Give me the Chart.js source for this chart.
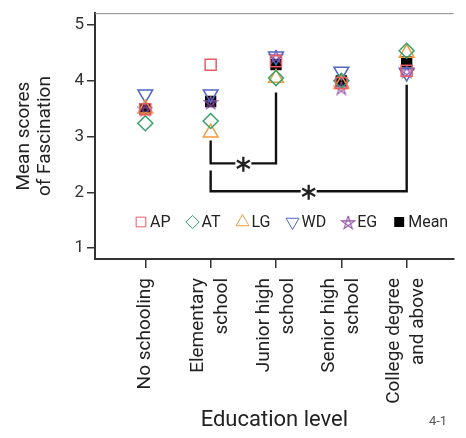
<!DOCTYPE html>
<html>
<head>
<meta charset="utf-8">
<script src="https://cdn.jsdelivr.net/npm/chart.js@4"></script>
<style>
  html, body { margin: 0; padding: 0; background: #fff; }
</style>
</head>
<body>
<canvas id="chart" width="466" height="438"></canvas>
<script>
// Education levels (x categories)
const levels = ['No schooling', ['Elementary', 'school'], ['Junior high', 'school'], ['Senior high', 'school'], ['College degree', 'and above']];

// Mean scores of Fascination per group
const apScores = [3.49, 4.29, 4.35, 3.96, 4.18];
const atScores = [3.24, 3.28, 4.05, 4.00, 4.54];
const lgScores = [3.50, 3.07, 4.05, 3.94, 4.50];
const wdScores = [3.76, 3.76, 4.44, 4.17, 4.15];
const egScores = [3.50, 3.62, 4.45, 3.88, 4.18];
const meanScores = [3.50, 3.63, 4.29, 4.00, 4.34];

const yTicks = [1, 2, 3, 4, 5];

// Significance brackets (level index pairs) and their heights
const sigPairs = [[1, 2], [1, 4]];
const sigBarY = [2.52, 2.02];
const sigLeftTop = [2.93, 2.39];
const sigRightTop = [3.79, 3.93];

const FONT = 'Roboto, "DejaVu Sans", sans-serif';
const TICK_SIZE = 19;
const TICK_LINE = 24;

// five pointed star drawn as lines, for the EG group
function makeStar(color, size) {
    const c = document.createElement('canvas');
    c.width = size;
    c.height = size;
    const g = c.getContext('2d');
    const r = size / 2 - 1;
    g.strokeStyle = color;
    g.lineWidth = 1.1;
    g.beginPath();
    for (let k = 0; k <= 5; k++) {
        const a = -Math.PI / 2 + k * 4 * Math.PI / 5;
        const px = size / 2 + r * Math.cos(a);
        const py = size / 2 + 1 + r * Math.sin(a);
        if (k === 0) g.moveTo(px, py); else g.lineTo(px, py);
    }
    g.stroke();
    return c;
}

function toPoints(values) {
    return values.map((v, i) => ({ x: i, y: v }));
}

function markerSet(label, values, color, style, radius, rotation, filled) {
    return {
        label: label,
        data: toPoints(values),
        pointStyle: style,
        pointRadius: radius,
        pointHoverRadius: radius,
        pointRotation: rotation,
        borderColor: color,
        backgroundColor: filled ? color : 'rgba(0,0,0,0)',
        borderWidth: filled ? 0 : 1.5,
        showLine: false
    };
}

function bracketSet(i) {
    const [a, b] = sigPairs[i];
    return {
        label: 'sig' + i,
        data: [
            { x: a, y: sigLeftTop[i] },
            { x: a, y: sigBarY[i] },
            { x: b, y: sigBarY[i] },
            { x: b, y: sigRightTop[i] }
        ],
        showLine: true,
        borderColor: '#111',
        borderWidth: 2.4,
        pointRadius: 0,
        pointHoverRadius: 0,
        fill: false
    };
}

const markerSets = [
    markerSet('AP', apScores, '#ec5a63', 'rect', 7.8, 0, false),
    markerSet('AT', atScores, '#34a26a', 'rectRot', 7.5, 0, false),
    markerSet('LG', lgScores, '#f39a3c', 'triangle', 8.5, 0, false),
    markerSet('WD', wdScores, '#5068c4', 'triangle', 8.5, 180, false),
    markerSet('EG', egScores, '#9150a8', makeStar('#9150a8', 16), 8, 0, false),
    markerSet('Mean', meanScores, '#000000', 'rect', 8, 0, true)
];

const extrasPlugin = {
    id: 'extras',
    beforeDatasetsDraw(chart) {
        const { ctx, chartArea } = chart;
        ctx.save();
        ctx.strokeStyle = '#8a8a8a';
        ctx.lineWidth = 1;
        ctx.beginPath();
        ctx.moveTo(chartArea.left, chartArea.top + 0.5);
        ctx.lineTo(chartArea.right, chartArea.top + 0.5);
        ctx.stroke();
        ctx.restore();
    },
    afterDatasetsDraw(chart) {
        const { ctx } = chart;
        const xs = chart.scales.x, ys = chart.scales.y;
        ctx.save();
        sigPairs.forEach(([a, b], i) => {
            const cx = xs.getPixelForValue((a + b) / 2);
            const cy = ys.getPixelForValue(sigBarY[i]) + 1;
            ctx.fillStyle = '#fff';
            ctx.fillRect(cx - 8, cy - 9, 16, 18);
            ctx.strokeStyle = '#222';
            ctx.lineWidth = 2.3;
            ctx.beginPath();
            [90, 30, -30].forEach(deg => {
                const t = deg * Math.PI / 180;
                ctx.moveTo(cx - 7.5 * Math.cos(t), cy - 7.5 * Math.sin(t));
                ctx.lineTo(cx + 7.5 * Math.cos(t), cy + 7.5 * Math.sin(t));
            });
            ctx.stroke();
        });
        ctx.restore();
    },
    afterDraw(chart) {
        const { ctx, chartArea } = chart;
        ctx.save();
        // legend inside the plot
        ctx.font = '16px ' + FONT;
        ctx.textBaseline = 'middle';
        let x = chartArea.left + 46;
        const y = chartArea.bottom - 37;
        markerSets.forEach(ds => {
            ctx.strokeStyle = ds.borderColor;
            ctx.fillStyle = ds.backgroundColor;
            Chart.helpers.drawPoint(ctx, {
                pointStyle: ds.pointStyle,
                rotation: ds.pointRotation,
                radius: ds.pointRadius * 0.88,
                borderWidth: ds.borderWidth
            }, x, y);
            ctx.fillStyle = '#222';
            ctx.textAlign = 'left';
            ctx.fillText(ds.label, x + 9, y + 1);
            x += 9 + ctx.measureText(ds.label).width + 22;
        });
        // figure number
        ctx.font = '13px ' + FONT;
        ctx.fillStyle = '#555';
        ctx.textAlign = 'center';
        ctx.fillText('4-1', chart.width - 28, chart.height - 16);
        ctx.restore();
    }
};

new Chart(document.getElementById('chart'), {
    type: 'scatter',
    data: {
        datasets: markerSets.concat(sigPairs.map((p, i) => bracketSet(i)))
    },
    options: {
        responsive: false,
        animation: false,
        events: [],
        layout: { padding: { top: 12, right: 0, bottom: 0, left: 0 } },
        plugins: {
            legend: { display: false },
            tooltip: { enabled: false }
        },
        scales: {
            x: {
                type: 'linear',
                position: 'bottom',
                min: -0.77,
                max: 4.72,
                afterBuildTicks: s => { s.ticks = levels.map((l, i) => ({ value: i })); },
                afterFit: s => { s.height = 179; },
                ticks: {
                    autoSkip: false,
                    includeBounds: false,
                    minRotation: 90,
                    maxRotation: 90,
                    padding: 10,
                    labelOffset: -TICK_LINE / 2,
                    color: '#222',
                    // two-line labels are centred on the tick; one-line labels get a blank first line
                    font: c => ({
                        family: FONT,
                        size: TICK_SIZE,
                        lineHeight: (Array.isArray(levels[c.index]) ? TICK_LINE : TICK_LINE / 2) + 'px'
                    }),
                    callback: v => Array.isArray(levels[v]) ? levels[v] : ['', levels[v]]
                },
                grid: {
                    display: true,
                    drawOnChartArea: false,
                    drawTicks: true,
                    tickLength: 9,
                    color: '#333',
                    lineWidth: 1.5
                },
                border: { display: true, color: '#333', width: 2 },
                title: {
                    display: true,
                    text: 'Education level',
                    color: '#222',
                    font: { family: FONT, size: 22 },
                    padding: { top: 0, bottom: 4 }
                }
            },
            y: {
                min: 0.804,
                max: 5.214,
                afterBuildTicks: s => { s.ticks = yTicks.map(v => ({ value: v })); },
                afterFit: s => { s.width = 95; },
                ticks: {
                    includeBounds: false,
                    padding: 3,
                    color: '#333',
                    font: { family: FONT, size: 17 }
                },
                grid: {
                    display: true,
                    drawOnChartArea: false,
                    drawTicks: true,
                    tickLength: 8,
                    color: '#333',
                    lineWidth: 1.5
                },
                border: { display: true, color: '#333', width: 2 },
                title: {
                    display: true,
                    text: ['Mean scores', 'of Fascination'],
                    color: '#222',
                    font: { family: FONT, size: 19, lineHeight: 1.1 },
                    padding: { top: 14, bottom: 0 }
                }
            }
        }
    },
    plugins: [extrasPlugin]
});
</script>
</body>
</html>
